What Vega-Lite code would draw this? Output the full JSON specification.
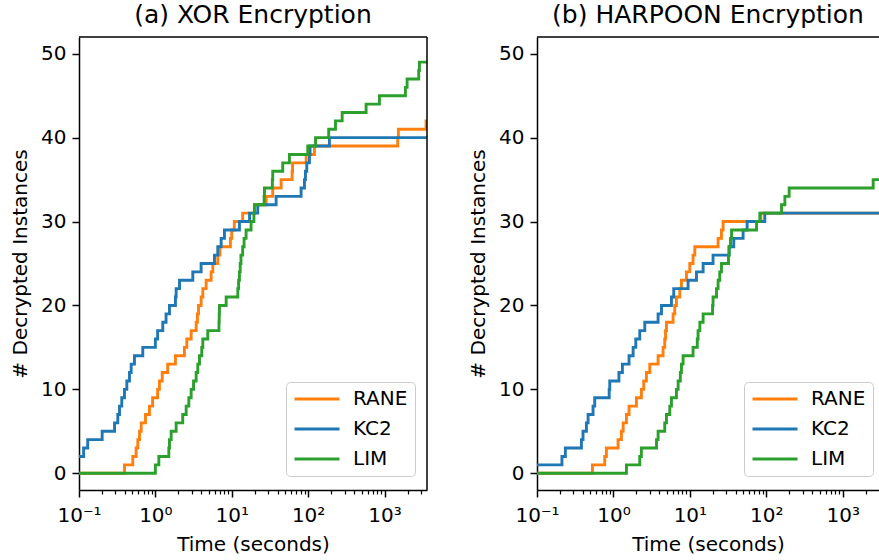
{
  "$schema": "https://vega.github.io/schema/vega-lite/v6.json",
  "background": "white",
  "padding": {"left": 10, "top": 3, "right": 0, "bottom": 2},
  "config": {
    "font": "DejaVu Sans",
    "view": {"stroke": null},
    "title": {"fontSize": 25, "fontWeight": "normal", "color": "black", "offset": 8},
    "axis": {
      "grid": false,
      "domain": true,
      "domainColor": "black",
      "domainWidth": 1.5,
      "tickColor": "black",
      "labelColor": "black",
      "titleColor": "black",
      "labelFontSize": 20,
      "titleFontSize": 20,
      "titleFontWeight": "normal",
      "labelFont": "DejaVu Sans",
      "titleFont": "DejaVu Sans"
    },
    "legend": {
      "labelFontSize": 20,
      "labelFont": "DejaVu Sans",
      "labelColor": "black"
    }
  },
  "datasets": {
    "xor": [
      {"method": "RANE", "time": 0.1, "count": 0},
      {"method": "RANE", "time": 0.394, "count": 1},
      {"method": "RANE", "time": 0.506, "count": 2},
      {"method": "RANE", "time": 0.56, "count": 3},
      {"method": "RANE", "time": 0.589, "count": 4},
      {"method": "RANE", "time": 0.62, "count": 5},
      {"method": "RANE", "time": 0.652, "count": 6},
      {"method": "RANE", "time": 0.742, "count": 7},
      {"method": "RANE", "time": 0.837, "count": 8},
      {"method": "RANE", "time": 0.92, "count": 9},
      {"method": "RANE", "time": 1.07, "count": 10},
      {"method": "RANE", "time": 1.13, "count": 11},
      {"method": "RANE", "time": 1.23, "count": 12},
      {"method": "RANE", "time": 1.45, "count": 13},
      {"method": "RANE", "time": 1.83, "count": 14},
      {"method": "RANE", "time": 2.4, "count": 15},
      {"method": "RANE", "time": 2.58, "count": 16},
      {"method": "RANE", "time": 2.94, "count": 17},
      {"method": "RANE", "time": 3.42, "count": 18},
      {"method": "RANE", "time": 3.55, "count": 19},
      {"method": "RANE", "time": 3.67, "count": 20},
      {"method": "RANE", "time": 3.97, "count": 21},
      {"method": "RANE", "time": 4.18, "count": 22},
      {"method": "RANE", "time": 4.62, "count": 23},
      {"method": "RANE", "time": 5.37, "count": 24},
      {"method": "RANE", "time": 5.65, "count": 25},
      {"method": "RANE", "time": 6.56, "count": 26},
      {"method": "RANE", "time": 7.0, "count": 27},
      {"method": "RANE", "time": 9.6, "count": 28},
      {"method": "RANE", "time": 10.0, "count": 29},
      {"method": "RANE", "time": 10.8, "count": 30},
      {"method": "RANE", "time": 13.9, "count": 31},
      {"method": "RANE", "time": 19.8, "count": 32},
      {"method": "RANE", "time": 28.2, "count": 33},
      {"method": "RANE", "time": 34.4, "count": 34},
      {"method": "RANE", "time": 44.3, "count": 35},
      {"method": "RANE", "time": 61.7, "count": 36},
      {"method": "RANE", "time": 62.5, "count": 37},
      {"method": "RANE", "time": 94.2, "count": 38},
      {"method": "RANE", "time": 121, "count": 39},
      {"method": "RANE", "time": 1490, "count": 40},
      {"method": "RANE", "time": 1520, "count": 41},
      {"method": "RANE", "time": 3500, "count": 42},
      {"method": "RANE", "time": 3600, "count": 42},
      {"method": "KC2", "time": 0.1, "count": 2},
      {"method": "KC2", "time": 0.115, "count": 3},
      {"method": "KC2", "time": 0.13, "count": 4},
      {"method": "KC2", "time": 0.201, "count": 5},
      {"method": "KC2", "time": 0.292, "count": 6},
      {"method": "KC2", "time": 0.322, "count": 7},
      {"method": "KC2", "time": 0.339, "count": 8},
      {"method": "KC2", "time": 0.363, "count": 9},
      {"method": "KC2", "time": 0.394, "count": 10},
      {"method": "KC2", "time": 0.423, "count": 11},
      {"method": "KC2", "time": 0.458, "count": 12},
      {"method": "KC2", "time": 0.482, "count": 13},
      {"method": "KC2", "time": 0.532, "count": 14},
      {"method": "KC2", "time": 0.684, "count": 15},
      {"method": "KC2", "time": 1.0, "count": 16},
      {"method": "KC2", "time": 1.07, "count": 17},
      {"method": "KC2", "time": 1.25, "count": 18},
      {"method": "KC2", "time": 1.38, "count": 19},
      {"method": "KC2", "time": 1.53, "count": 20},
      {"method": "KC2", "time": 1.83, "count": 21},
      {"method": "KC2", "time": 1.87, "count": 22},
      {"method": "KC2", "time": 2.07, "count": 23},
      {"method": "KC2", "time": 3.09, "count": 24},
      {"method": "KC2", "time": 3.97, "count": 25},
      {"method": "KC2", "time": 5.94, "count": 26},
      {"method": "KC2", "time": 6.56, "count": 27},
      {"method": "KC2", "time": 7.26, "count": 28},
      {"method": "KC2", "time": 8.02, "count": 29},
      {"method": "KC2", "time": 12.6, "count": 30},
      {"method": "KC2", "time": 17.1, "count": 31},
      {"method": "KC2", "time": 21.9, "count": 32},
      {"method": "KC2", "time": 38.1, "count": 33},
      {"method": "KC2", "time": 80.9, "count": 34},
      {"method": "KC2", "time": 89.5, "count": 35},
      {"method": "KC2", "time": 92.2, "count": 36},
      {"method": "KC2", "time": 96, "count": 37},
      {"method": "KC2", "time": 104, "count": 38},
      {"method": "KC2", "time": 106, "count": 39},
      {"method": "KC2", "time": 190, "count": 40},
      {"method": "KC2", "time": 3600, "count": 40},
      {"method": "LIM", "time": 0.1, "count": 0},
      {"method": "LIM", "time": 1.0, "count": 1},
      {"method": "LIM", "time": 1.11, "count": 2},
      {"method": "LIM", "time": 1.5, "count": 3},
      {"method": "LIM", "time": 1.53, "count": 4},
      {"method": "LIM", "time": 1.61, "count": 5},
      {"method": "LIM", "time": 1.87, "count": 6},
      {"method": "LIM", "time": 2.28, "count": 7},
      {"method": "LIM", "time": 2.53, "count": 8},
      {"method": "LIM", "time": 2.74, "count": 9},
      {"method": "LIM", "time": 2.94, "count": 10},
      {"method": "LIM", "time": 3.16, "count": 11},
      {"method": "LIM", "time": 3.42, "count": 12},
      {"method": "LIM", "time": 3.59, "count": 13},
      {"method": "LIM", "time": 3.78, "count": 14},
      {"method": "LIM", "time": 4.05, "count": 15},
      {"method": "LIM", "time": 4.18, "count": 16},
      {"method": "LIM", "time": 4.85, "count": 17},
      {"method": "LIM", "time": 6.8, "count": 18},
      {"method": "LIM", "time": 6.85, "count": 19},
      {"method": "LIM", "time": 6.9, "count": 20},
      {"method": "LIM", "time": 8.45, "count": 21},
      {"method": "LIM", "time": 12.0, "count": 22},
      {"method": "LIM", "time": 12.3, "count": 23},
      {"method": "LIM", "time": 12.6, "count": 24},
      {"method": "LIM", "time": 12.9, "count": 25},
      {"method": "LIM", "time": 13.2, "count": 26},
      {"method": "LIM", "time": 13.9, "count": 27},
      {"method": "LIM", "time": 14.5, "count": 28},
      {"method": "LIM", "time": 15.4, "count": 29},
      {"method": "LIM", "time": 17.9, "count": 30},
      {"method": "LIM", "time": 19.5, "count": 31},
      {"method": "LIM", "time": 19.8, "count": 32},
      {"method": "LIM", "time": 26.5, "count": 33},
      {"method": "LIM", "time": 26.8, "count": 34},
      {"method": "LIM", "time": 34.0, "count": 35},
      {"method": "LIM", "time": 34.4, "count": 36},
      {"method": "LIM", "time": 46.5, "count": 37},
      {"method": "LIM", "time": 56.9, "count": 38},
      {"method": "LIM", "time": 98.9, "count": 39},
      {"method": "LIM", "time": 125, "count": 40},
      {"method": "LIM", "time": 186, "count": 41},
      {"method": "LIM", "time": 228, "count": 42},
      {"method": "LIM", "time": 279, "count": 43},
      {"method": "LIM", "time": 574, "count": 44},
      {"method": "LIM", "time": 858, "count": 45},
      {"method": "LIM", "time": 1878, "count": 46},
      {"method": "LIM", "time": 1977, "count": 47},
      {"method": "LIM", "time": 2806, "count": 48},
      {"method": "LIM", "time": 2864, "count": 49},
      {"method": "LIM", "time": 3600, "count": 49}
    ],
    "harpoon": [
      {"method": "RANE", "time": 0.1, "count": 0},
      {"method": "RANE", "time": 0.531, "count": 1},
      {"method": "RANE", "time": 0.769, "count": 2},
      {"method": "RANE", "time": 0.809, "count": 3},
      {"method": "RANE", "time": 1.15, "count": 4},
      {"method": "RANE", "time": 1.27, "count": 5},
      {"method": "RANE", "time": 1.34, "count": 6},
      {"method": "RANE", "time": 1.48, "count": 7},
      {"method": "RANE", "time": 1.6, "count": 8},
      {"method": "RANE", "time": 2.0, "count": 9},
      {"method": "RANE", "time": 2.32, "count": 10},
      {"method": "RANE", "time": 2.49, "count": 11},
      {"method": "RANE", "time": 2.7, "count": 12},
      {"method": "RANE", "time": 2.99, "count": 13},
      {"method": "RANE", "time": 3.84, "count": 14},
      {"method": "RANE", "time": 4.46, "count": 15},
      {"method": "RANE", "time": 4.69, "count": 16},
      {"method": "RANE", "time": 4.8, "count": 17},
      {"method": "RANE", "time": 4.94, "count": 18},
      {"method": "RANE", "time": 6.03, "count": 19},
      {"method": "RANE", "time": 6.34, "count": 20},
      {"method": "RANE", "time": 6.67, "count": 21},
      {"method": "RANE", "time": 7.38, "count": 22},
      {"method": "RANE", "time": 7.76, "count": 23},
      {"method": "RANE", "time": 9.02, "count": 24},
      {"method": "RANE", "time": 9.97, "count": 25},
      {"method": "RANE", "time": 11.0, "count": 26},
      {"method": "RANE", "time": 11.6, "count": 27},
      {"method": "RANE", "time": 23.4, "count": 28},
      {"method": "RANE", "time": 25.9, "count": 29},
      {"method": "RANE", "time": 27.2, "count": 30},
      {"method": "RANE", "time": 85, "count": 31},
      {"method": "RANE", "time": 3600, "count": 31},
      {"method": "KC2", "time": 0.1, "count": 1},
      {"method": "KC2", "time": 0.212, "count": 2},
      {"method": "KC2", "time": 0.235, "count": 3},
      {"method": "KC2", "time": 0.381, "count": 4},
      {"method": "KC2", "time": 0.4, "count": 5},
      {"method": "KC2", "time": 0.443, "count": 6},
      {"method": "KC2", "time": 0.466, "count": 7},
      {"method": "KC2", "time": 0.541, "count": 8},
      {"method": "KC2", "time": 0.569, "count": 9},
      {"method": "KC2", "time": 0.88, "count": 10},
      {"method": "KC2", "time": 0.895, "count": 11},
      {"method": "KC2", "time": 1.18, "count": 12},
      {"method": "KC2", "time": 1.31, "count": 13},
      {"method": "KC2", "time": 1.6, "count": 14},
      {"method": "KC2", "time": 1.81, "count": 15},
      {"method": "KC2", "time": 1.96, "count": 16},
      {"method": "KC2", "time": 2.21, "count": 17},
      {"method": "KC2", "time": 2.57, "count": 18},
      {"method": "KC2", "time": 3.84, "count": 19},
      {"method": "KC2", "time": 4.25, "count": 20},
      {"method": "KC2", "time": 5.74, "count": 21},
      {"method": "KC2", "time": 6.15, "count": 22},
      {"method": "KC2", "time": 9.47, "count": 23},
      {"method": "KC2", "time": 12.2, "count": 24},
      {"method": "KC2", "time": 14.9, "count": 25},
      {"method": "KC2", "time": 20.1, "count": 26},
      {"method": "KC2", "time": 32.6, "count": 27},
      {"method": "KC2", "time": 37.5, "count": 28},
      {"method": "KC2", "time": 49.7, "count": 29},
      {"method": "KC2", "time": 56.1, "count": 30},
      {"method": "KC2", "time": 95.5, "count": 31},
      {"method": "KC2", "time": 3600, "count": 31},
      {"method": "LIM", "time": 0.1, "count": 0},
      {"method": "LIM", "time": 1.48, "count": 1},
      {"method": "LIM", "time": 2.21, "count": 2},
      {"method": "LIM", "time": 2.32, "count": 3},
      {"method": "LIM", "time": 3.66, "count": 4},
      {"method": "LIM", "time": 3.84, "count": 5},
      {"method": "LIM", "time": 4.69, "count": 6},
      {"method": "LIM", "time": 4.94, "count": 7},
      {"method": "LIM", "time": 5.46, "count": 8},
      {"method": "LIM", "time": 5.74, "count": 9},
      {"method": "LIM", "time": 6.67, "count": 10},
      {"method": "LIM", "time": 7.02, "count": 11},
      {"method": "LIM", "time": 7.5, "count": 12},
      {"method": "LIM", "time": 7.76, "count": 13},
      {"method": "LIM", "time": 8.15, "count": 14},
      {"method": "LIM", "time": 11.0, "count": 15},
      {"method": "LIM", "time": 12.5, "count": 16},
      {"method": "LIM", "time": 12.8, "count": 17},
      {"method": "LIM", "time": 13.5, "count": 18},
      {"method": "LIM", "time": 14.9, "count": 19},
      {"method": "LIM", "time": 19.8, "count": 20},
      {"method": "LIM", "time": 20.1, "count": 21},
      {"method": "LIM", "time": 22.3, "count": 22},
      {"method": "LIM", "time": 23.4, "count": 23},
      {"method": "LIM", "time": 24.6, "count": 24},
      {"method": "LIM", "time": 25.9, "count": 25},
      {"method": "LIM", "time": 32.0, "count": 26},
      {"method": "LIM", "time": 32.6, "count": 27},
      {"method": "LIM", "time": 34.0, "count": 28},
      {"method": "LIM", "time": 35.1, "count": 29},
      {"method": "LIM", "time": 74.5, "count": 30},
      {"method": "LIM", "time": 82.3, "count": 31},
      {"method": "LIM", "time": 158, "count": 32},
      {"method": "LIM", "time": 175, "count": 33},
      {"method": "LIM", "time": 199, "count": 34},
      {"method": "LIM", "time": 2500, "count": 35},
      {"method": "LIM", "time": 3600, "count": 35}
    ]
  },
  "spacing": 40,
  "resolve": {
    "scale": {"x": "independent", "y": "independent", "color": "independent"},
    "legend": {"color": "independent"}
  },
  "hconcat": [
    {
      "width": 348,
      "height": 453,
      "title": {"text": "(a) XOR Encryption"},
      "layer": [
        {
          "data": {"name": "xor"},
          "mark": {"type": "line", "interpolate": "step-after", "strokeWidth": 2.9, "clip": true},
          "encoding": {
            "x": {
              "field": "time", "type": "quantitative",
              "scale": {"type": "log", "domain": [0.1, 3600], "nice": false},
              "axis": {
                "title": "Time (seconds)",
                "values": [0.1, 0.2, 0.3, 0.4, 0.5, 0.6, 0.7, 0.8, 0.9, 1, 2, 3, 4, 5, 6, 7, 8, 9, 10, 20, 30, 40, 50, 60, 70, 80, 90, 100, 200, 300, 400, 500, 600, 700, 800, 900, 1000, 2000, 3000],
                "labelExpr": "datum.value == 0.1 ? '10⁻¹' : datum.value == 1 ? '10⁰' : datum.value == 10 ? '10¹' : datum.value == 100 ? '10²' : datum.value == 1000 ? '10³' : ''",
                "labelOverlap": false,
                "labelFlush": false,
                "labelPadding": 8,
                "titlePadding": 9,
                "tickSize": {"condition": {"test": "indexof([0.1, 1, 10, 100, 1000], datum.value) >= 0", "value": 7}, "value": 4},
                "tickWidth": {"condition": {"test": "indexof([0.1, 1, 10, 100, 1000], datum.value) >= 0", "value": 1.5}, "value": 1.2}
              }
            },
            "y": {
              "field": "count", "type": "quantitative",
              "scale": {"domain": [-2, 52], "nice": false, "zero": false},
              "axis": {
                "title": "# Decrypted Instances",
                "values": [0, 10, 20, 30, 40, 50],
                "tickSize": 7, "tickWidth": 1.5,
                "labelPadding": 6, "titlePadding": 10
              }
            },
            "color": {
              "field": "method", "type": "nominal",
              "scale": {"domain": ["RANE", "KC2", "LIM"], "range": ["#ff7f0e", "#1f77b4", "#2ca02c"]},
              "legend": {
                "title": null, "orient": "none", "legendX": 207, "legendY": 345,
                "fillColor": "white", "strokeColor": "#cccccc", "cornerRadius": 4, "padding": 7,
                "symbolType": "stroke", "symbolSize": 2025, "symbolStrokeWidth": 3,
                "clipHeight": 20, "rowPadding": 10, "labelOffset": 12
              }
            }
          }
        },
        {
          "data": {"values": [{}]},
          "mark": {"type": "rule", "color": "black", "strokeWidth": 1.5},
          "encoding": {"y": {"datum": 52}}
        },
        {
          "data": {"values": [{}]},
          "mark": {"type": "rule", "color": "black", "strokeWidth": 1.5},
          "encoding": {"x": {"datum": 3600}}
        }
      ]
    },
    {
      "width": 342,
      "height": 453,
      "title": {"text": "(b) HARPOON Encryption"},
      "layer": [
        {
          "data": {"name": "harpoon"},
          "mark": {"type": "line", "interpolate": "step-after", "strokeWidth": 2.9, "clip": true},
          "encoding": {
            "x": {
              "field": "time", "type": "quantitative",
              "scale": {"type": "log", "domain": [0.1, 2980], "nice": false},
              "axis": {
                "title": "Time (seconds)",
                "values": [0.1, 0.2, 0.3, 0.4, 0.5, 0.6, 0.7, 0.8, 0.9, 1, 2, 3, 4, 5, 6, 7, 8, 9, 10, 20, 30, 40, 50, 60, 70, 80, 90, 100, 200, 300, 400, 500, 600, 700, 800, 900, 1000, 2000],
                "labelExpr": "datum.value == 0.1 ? '10⁻¹' : datum.value == 1 ? '10⁰' : datum.value == 10 ? '10¹' : datum.value == 100 ? '10²' : datum.value == 1000 ? '10³' : ''",
                "labelOverlap": false,
                "labelFlush": false,
                "labelPadding": 8,
                "titlePadding": 9,
                "tickSize": {"condition": {"test": "indexof([0.1, 1, 10, 100, 1000], datum.value) >= 0", "value": 7}, "value": 4},
                "tickWidth": {"condition": {"test": "indexof([0.1, 1, 10, 100, 1000], datum.value) >= 0", "value": 1.5}, "value": 1.2}
              }
            },
            "y": {
              "field": "count", "type": "quantitative",
              "scale": {"domain": [-2, 52], "nice": false, "zero": false},
              "axis": {
                "title": "# Decrypted Instances",
                "values": [0, 10, 20, 30, 40, 50],
                "tickSize": 7, "tickWidth": 1.5,
                "labelPadding": 6, "titlePadding": 10
              }
            },
            "color": {
              "field": "method", "type": "nominal",
              "scale": {"domain": ["RANE", "KC2", "LIM"], "range": ["#ff7f0e", "#1f77b4", "#2ca02c"]},
              "legend": {
                "title": null, "orient": "none", "legendX": 207, "legendY": 345,
                "fillColor": "white", "strokeColor": "#cccccc", "cornerRadius": 4, "padding": 7,
                "symbolType": "stroke", "symbolSize": 2025, "symbolStrokeWidth": 3,
                "clipHeight": 20, "rowPadding": 10, "labelOffset": 12
              }
            }
          }
        },
        {
          "data": {"values": [{}]},
          "mark": {"type": "rule", "color": "black", "strokeWidth": 1.5},
          "encoding": {"y": {"datum": 52}}
        }
      ]
    }
  ]
}
